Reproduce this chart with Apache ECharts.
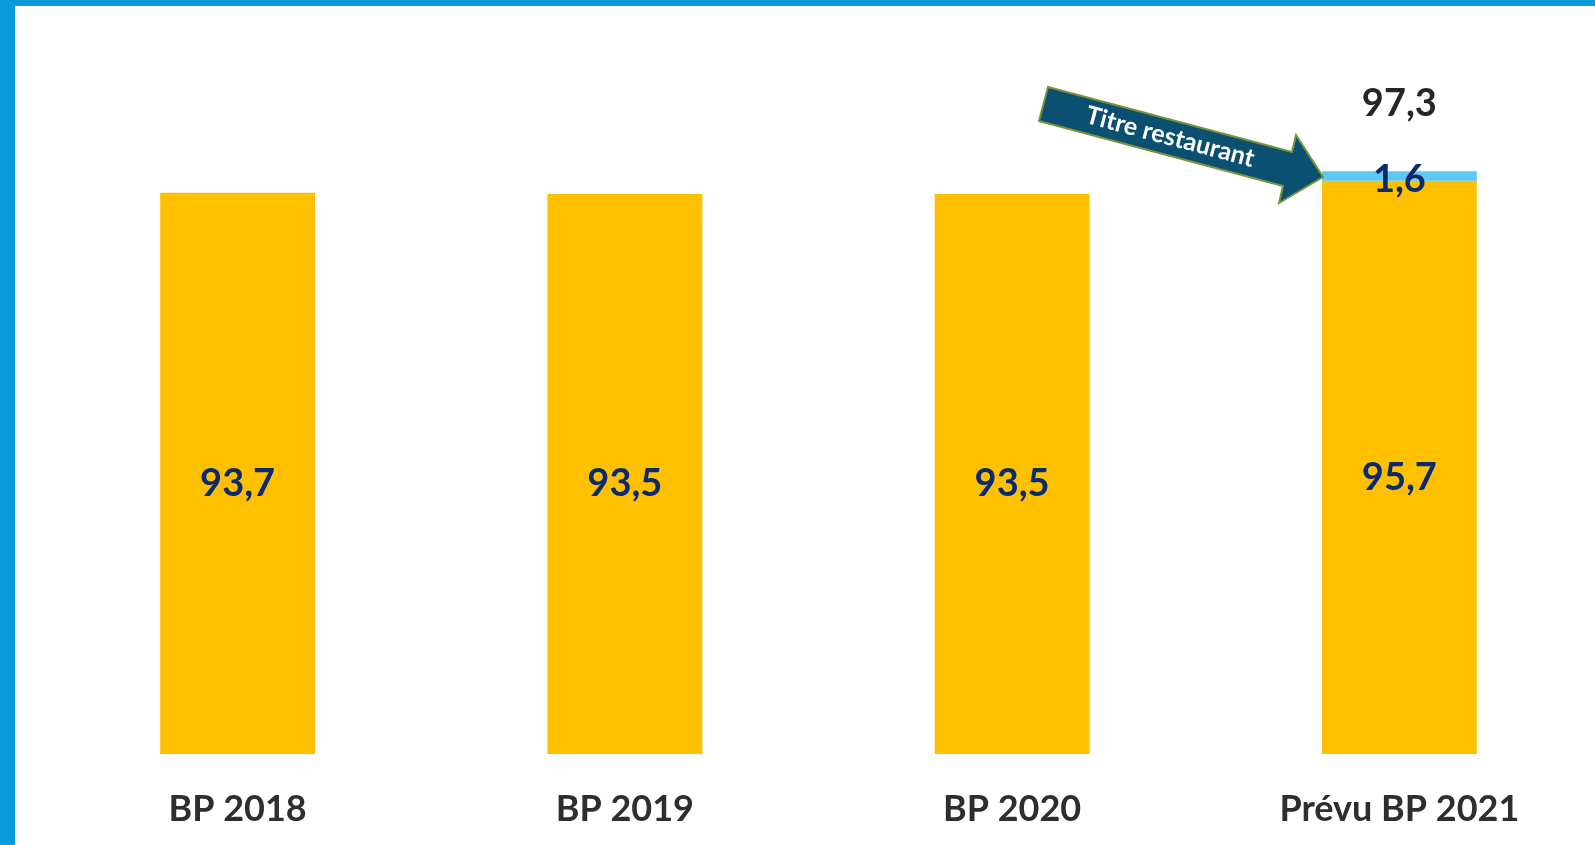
<!DOCTYPE html>
<html>
<head>
<meta charset="utf-8">
<script src="https://cdn.jsdelivr.net/npm/echarts@6/dist/echarts.min.js"></script>
<style>
  html, body { margin: 0; padding: 0; background: #fff; }
  #chart { width: 1595px; height: 845px; }
</style>
</head>
<body>
<div id="chart"></div>
<script>
// données du graphique
const categories = ['BP 2018', 'BP 2019', 'BP 2020', 'Prévu BP 2021']
const baseValues = [93.7, 93.5, 93.5, 95.7]
const titreRestaurant = [null, null, null, 1.6]
const totals = [null, null, null, 97.3]
const arrowLabel = 'Titre restaurant'

const fmt = (v) => String(v).replace('.', ',')
const font = 'Lato, "Open Sans", sans-serif'

const myChart = echarts.init(document.getElementById('chart'))

myChart.setOption({
    animation: false,
    backgroundColor: '#fff',
    grid: {
        left: 44,
        right: 2,
        top: 155,
        bottom: 91
    },
    xAxis: {
        type: 'category',
        data: categories,
        axisLine: { show: false },
        axisTick: { show: false },
        axisLabel: {
            margin: 37,
            fontFamily: font,
            fontWeight: 'bold',
            fontSize: 36,
            color: '#2e2e2e'
        }
    },
    yAxis: {
        type: 'value',
        min: 0,
        max: 100,
        show: false,
        splitLine: { show: false }
    },
    series: [
        {
            name: 'base',
            type: 'bar',
            stack: 'total',
            barWidth: '40%',
            data: baseValues,
            itemStyle: { color: '#FFC000' },
            label: {
                show: true,
                position: 'inside',
                offset: [0, 10],
                formatter: (p) => fmt(p.value),
                fontFamily: font,
                fontWeight: 'bold',
                fontSize: 38,
                color: '#0a2a6e'
            }
        },
        {
            name: 'Titre restaurant',
            type: 'bar',
            stack: 'total',
            data: titreRestaurant,
            itemStyle: { color: '#5EC8F5' },
            label: {
                show: true,
                position: 'inside',
                offset: [0, 4],
                formatter: (p) => p.value == null ? '' : fmt(p.value),
                fontFamily: font,
                fontWeight: 'bold',
                fontSize: 38,
                color: '#0a2a6e'
            }
        },
        {
            name: 'total',
            type: 'scatter',
            data: totals,
            symbolSize: 0,
            itemStyle: { opacity: 1 },
            label: {
                show: true,
                position: 'top',
                distance: 48,
                formatter: (p) => p.value == null ? '' : fmt(p.value),
                fontFamily: font,
                fontWeight: 'bold',
                fontSize: 38,
                color: '#262626',
                opacity: 1
            }
        }
    ],
    graphic: [
        // cadre bleu
        { type: 'rect', left: 0, top: 0, shape: { width: 15, height: 845 }, style: { fill: '#0B9ADE' }, z: 10 },
        { type: 'rect', left: 0, top: 0, shape: { width: 1595, height: 6 }, style: { fill: '#0B9ADE' }, z: 10 },
        // flèche "Titre restaurant"
        {
            type: 'polygon',
            shape: {
                points: [[1048, 87], [1292, 152], [1296, 135], [1323, 177], [1279, 203], [1283, 186], [1039, 121]]
            },
            style: { fill: '#0B5070', stroke: '#77933C', lineWidth: 2 },
            z: 10
        },
        {
            type: 'text',
            x: 1170,
            y: 137,
            rotation: -0.2594,
            style: {
                text: arrowLabel,
                x: 0,
                y: 0,
                align: 'center',
                verticalAlign: 'middle',
                fill: '#fff',
                font: 'bold 25px ' + font
            },
            z: 11
        }
    ]
})
</script>
</body>
</html>
